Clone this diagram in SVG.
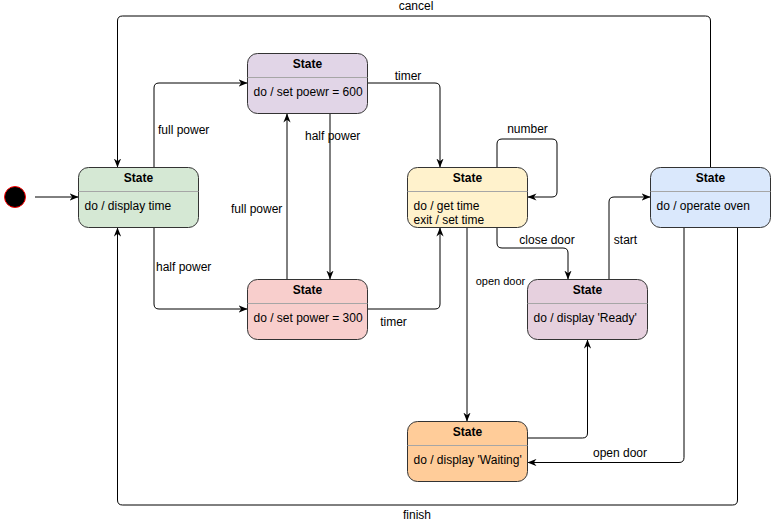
<svg xmlns="http://www.w3.org/2000/svg" width="771" height="522" viewBox="0 0 771 522">
<style>
text{font-family:"Liberation Sans",Arial,Helvetica,sans-serif;font-size:12px;fill:#000}
.t{font-weight:bold;text-anchor:middle}
.box{stroke:#333;stroke-width:1}
.sep{stroke:#a6a6a6;stroke-width:1}
.c{fill:none;stroke:#000;stroke-width:1;marker-end:url(#arr)}
.n{fill:none;stroke:#000;stroke-width:1}
.lbl{text-anchor:middle}
</style>
<defs>
<marker id="arr" viewBox="0 0 10 8" markerWidth="9" markerHeight="7.2" refX="10" refY="4" orient="auto" markerUnits="userSpaceOnUse">
<path d="M0,0 L10,4 L0,8 L3,4 z" fill="#000"/>
</marker>
</defs>
<rect width="771" height="522" fill="#fff"/>
<g id="connectors">
<path class="c" d="M35,197 H78.5"/>
<path class="c" d="M154,167.5 V88 Q154,83 159,83 H247.5"/>
<path class="c" d="M154,227.5 V304 Q154,309 159,309 H247.5"/>
<path class="c" d="M287,279.5 V113.5"/>
<path class="c" d="M330,113.5 V279.5"/>
<path class="c" d="M367.5,83 H435 Q440,83 440,88 V167.5"/>
<path class="c" d="M367.5,309 H435 Q440,309 440,304 V227.5"/>
<path class="c" d="M497,167.5 V144 Q497,139 502,139 H552 Q557,139 557,144 V192 Q557,197 552,197 H527.5"/>
<path class="c" d="M497,227.5 V243 Q497,248 502,248 H563 Q568,248 568,253 V279.5"/>
<path class="c" d="M467,227.5 V421.5"/>
<path class="c" d="M527.5,438 H582.5 Q587.5,438 587.5,433 V339.5"/>
<path class="c" d="M609,279.5 V202 Q609,197 614,197 H650.5"/>
<path class="c" d="M684,227.5 V457.5 Q684,462.5 679,462.5 H527.5"/>
<path class="c" d="M737.5,227.5 V500 Q737.5,505 732.5,505 H122.5 Q117.5,505 117.5,500 V227.5"/>
<path class="c" d="M710.5,167.5 V21 Q710.5,16 705.5,16 H122.5 Q117.5,16 117.5,21 V167.5"/>
<text class="lbl" x="416" y="10">cancel</text>
<text x="158" y="134">full power</text>
<text x="156" y="271">half power</text>
<text x="231" y="213">full power</text>
<text x="305" y="140">half power</text>
<text class="lbl" x="408" y="80">timer</text>
<text class="lbl" x="393.5" y="326">timer</text>
<text class="lbl" x="527.5" y="133">number</text>
<text class="lbl" x="547" y="244">close door</text>
<text class="lbl" x="625.5" y="244">start</text>
<text class="lbl" x="500.5" y="284.5" style="font-size:11px">open door</text>
<text class="lbl" x="620" y="457">open door</text>
<text class="lbl" x="417" y="519">finish</text>
</g>
<g id="initial">
<circle cx="15" cy="197" r="10.5" fill="#000" stroke="#ff0000" stroke-width="1"/>
</g>
<g id="display-time">
<rect class="box" x="78.5" y="167.5" width="120" height="60" rx="10" fill="#d5e8d4"/>
<line class="sep" x1="78.5" y1="191.5" x2="198.5" y2="191.5"/>
<text class="t" x="138.5" y="182">State</text>
<text x="84.5" y="210">do / display time</text>
</g>
<g id="power-600">
<rect class="box" x="247.5" y="53.5" width="120" height="60" rx="10" fill="#e1d5e7"/>
<line class="sep" x1="247.5" y1="77.5" x2="367.5" y2="77.5"/>
<text class="t" x="307.5" y="68">State</text>
<text x="253.5" y="96">do / set poewr = 600</text>
</g>
<g id="power-300">
<rect class="box" x="247.5" y="279.5" width="120" height="60" rx="10" fill="#f8cecc"/>
<line class="sep" x1="247.5" y1="303.5" x2="367.5" y2="303.5"/>
<text class="t" x="307.5" y="294">State</text>
<text x="253.5" y="322">do / set power = 300</text>
</g>
<g id="set-time">
<rect class="box" x="407.5" y="167.5" width="120" height="60" rx="10" fill="#fff2cc"/>
<line class="sep" x1="407.5" y1="191.5" x2="527.5" y2="191.5"/>
<text class="t" x="467.5" y="182">State</text>
<text x="413.5" y="210">do / get time</text>
<text x="413.5" y="223.5">exit / set time</text>
</g>
<g id="operate">
<rect class="box" x="650.5" y="167.5" width="120" height="60" rx="10" fill="#dae8fc"/>
<line class="sep" x1="650.5" y1="191.5" x2="770.5" y2="191.5"/>
<text class="t" x="710.5" y="182">State</text>
<text x="656.5" y="210">do / operate oven</text>
</g>
<g id="ready">
<rect class="box" x="527.5" y="279.5" width="120" height="60" rx="10" fill="#e6d0de"/>
<line class="sep" x1="527.5" y1="303.5" x2="647.5" y2="303.5"/>
<text class="t" x="587.5" y="294">State</text>
<text x="533.5" y="322">do / display 'Ready'</text>
</g>
<g id="waiting">
<rect class="box" x="407.5" y="421.5" width="120" height="60" rx="10" fill="#ffcc99"/>
<line class="sep" x1="407.5" y1="445.5" x2="527.5" y2="445.5"/>
<text class="t" x="467.5" y="436">State</text>
<text x="413.5" y="464">do / display 'Waiting'</text>
</g>
</svg>
